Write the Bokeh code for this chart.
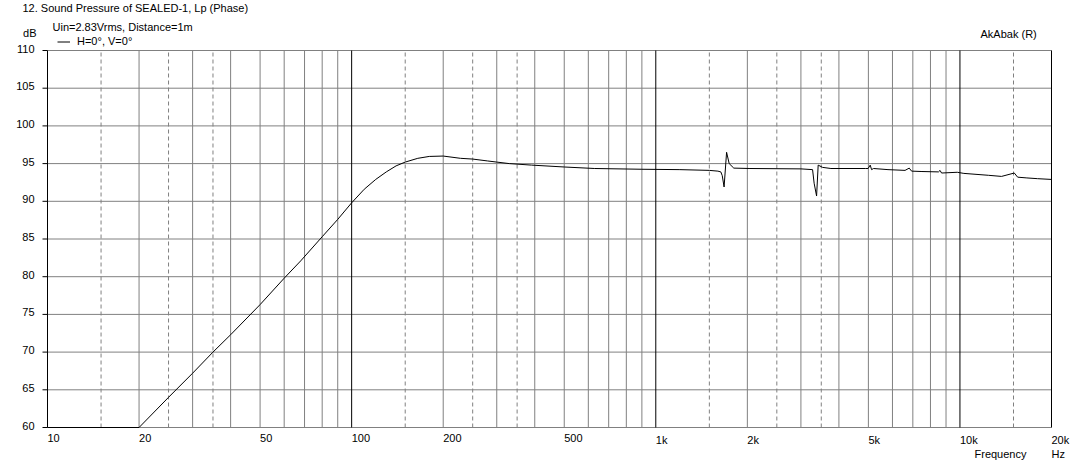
import math
from bokeh.plotting import figure
from bokeh.models import Range1d
from bokeh.core.properties import value
from bokeh.embed import file_html
from bokeh.resources import INLINE

FONT = "Liberation Sans"

# ---- data ----
freq_hz = [10, 20, 25, 30, 35, 40, 50, 60, 68, 80, 90, 100, 110, 120, 130, 140, 150, 165, 180, 200,
           228, 250, 280, 300, 330, 390, 500, 630, 900, 1200, 1500, 1600, 1636, 1654, 1677,
           1709, 1743, 1805, 2040, 3000, 3277, 3316, 3378, 3419, 3534, 3765, 4900, 4990, 5070,
           5122, 5200, 5800, 6600, 6811, 6935, 7500, 8500, 8600, 8700, 9800, 10300, 12400,
           13700, 15090, 15480, 16600, 18000, 20000]
spl_db = [60.0, 60.0, 64.0, 67.2, 70.0, 72.3, 76.3, 79.8, 82.1, 85.3, 87.6, 89.8, 91.6, 92.9, 93.9,
          94.7, 95.2, 95.7, 95.95, 96.0, 95.7, 95.6, 95.35, 95.2, 95.0, 94.8, 94.55, 94.35, 94.25,
          94.2, 94.1, 94.0, 93.9, 93.4, 91.9, 96.5, 95.0, 94.4, 94.35, 94.3, 94.2, 92.4, 90.7, 94.8,
          94.5, 94.35, 94.35, 94.35, 94.8, 94.2, 94.35, 94.2, 94.1, 94.4, 94.0, 93.95, 93.9, 94.1,
          93.75, 93.85, 93.7, 93.45, 93.3, 93.75, 93.2, 93.1, 93.0, 92.9]

y_ticks = [60, 65, 70, 75, 80, 85, 90, 95, 100, 105, 110]
y_tick_labels = [str(v) for v in y_ticks]
x_label_ticks = [10, 20, 50, 100, 200, 500, 1000, 2000, 5000, 10000, 20000]
x_label_texts = ["10", "20", "50", "100", "200", "500", "1k", "2k", "5k", "10k", "20k"]
decade_lines = [10, 100, 1000, 10000, 20000]
solid_lines = [20, 30, 40, 50, 60, 70, 80, 90,
               200, 300, 400, 500, 600, 700, 800, 900,
               2000, 3000, 4000, 5000, 6000, 7000, 8000, 9000]
dashed_lines = [15, 25, 35, 150, 250, 350, 1500, 2500, 3500, 15000]

title_text = "12. Sound Pressure of SEALED-1, Lp (Phase)"
subtitle_text = "Uin=2.83Vrms, Distance=1m"
legend_text = "H=0°, V=0°"
brand_text = "AkAbak (R)"
x_name = "Frequency"
x_unit = "Hz"
y_unit = "dB"

# ---- geometry (pixels) ----
W, H = 1078, 464
PL, PR, PT, PB = 47, 1051, 50, 427          # plot box in canvas pixels
X0, X1 = 10, 20000
Y0, Y1 = 60, 110
px_dec = (PR - PL) / (math.log10(X1) - math.log10(X0))
px_db = (PB - PT) / (Y1 - Y0)
xr = Range1d(10 ** (math.log10(X0) - PL / px_dec), 10 ** (math.log10(X1) + (W - PR) / px_dec))
yr = Range1d(Y0 - (H - PB) / px_db, Y1 + PT / px_db)

GRAY = "#808080"

p = figure(width=W, height=H, x_axis_type="log", x_range=xr, y_range=yr,
           x_axis_location=None, y_axis_location=None, min_border=0,
           output_backend="svg", toolbar_location=None)
p.title.visible = False
p.outline_line_color = None
p.background_fill_color = "white"
p.border_fill_color = "white"
for g in p.grid:
    g.visible = False

# horizontal grid
p.segment(x0=[X0] * len(y_ticks), y0=y_ticks, x1=[X1] * len(y_ticks), y1=y_ticks,
          line_color=GRAY, line_width=1)
# vertical grids
p.segment(x0=solid_lines, y0=[Y0] * len(solid_lines), x1=solid_lines, y1=[Y1] * len(solid_lines),
          line_color=GRAY, line_width=1)
p.segment(x0=dashed_lines, y0=[Y0] * len(dashed_lines), x1=dashed_lines, y1=[Y1] * len(dashed_lines),
          line_color=GRAY, line_width=1, line_dash="4 3")
p.segment(x0=decade_lines, y0=[Y0] * len(decade_lines), x1=decade_lines, y1=[Y1] * len(decade_lines),
          line_color="black", line_width=1)
# y ticks (5 px outward)
tick_x0 = 10 ** (math.log10(X0) - 5 / px_dec)
p.segment(x0=[tick_x0] * len(y_ticks), y0=y_ticks, x1=[X0] * len(y_ticks), y1=y_ticks,
          line_color="black", line_width=1)

# curve
p.line(freq_hz, spl_db, line_color="black", line_width=1, legend_label=legend_text)

TXT = dict(text_font_size="11px", text_color="black", text_font_style="normal",
           text_font=value(FONT))

# y tick labels
p.text(x=[X0] * len(y_ticks), y=y_ticks, text=y_tick_labels, x_offset=-13, y_offset=-2,
       text_align="right", text_baseline="middle", **TXT)
# x tick labels
p.text(x=x_label_ticks, y=[Y0] * len(x_label_ticks), text=x_label_texts, x_offset=0, y_offset=6,
       text_align="left", text_baseline="top", **TXT)


def anchored(text, px, py, align="left"):
    # text placed relative to the plot's top-left corner (X0, Y1)
    p.text(x=[X0], y=[Y1], text=[text], x_offset=px - PL, y_offset=py - PT,
           text_align=align, text_baseline="top", **TXT)


anchored(title_text, 22, 1)
anchored(subtitle_text, 52, 20)
anchored(y_unit, 36, 26, align="right")
anchored(brand_text, 980, 27)
anchored(x_name, 974, 447)
anchored(x_unit, 1051, 447)

lg = p.legend[0]
lg.location = (57, H - 36 - 11)
lg.padding = 0
lg.margin = 0
lg.spacing = 0
lg.glyph_width = 13
lg.glyph_height = 11
lg.label_height = 11
lg.label_standoff = 7
lg.label_text_font = FONT
lg.label_text_font_size = "11px"
lg.label_text_color = "black"
lg.background_fill_alpha = 0
lg.border_line_color = None

open("out.html", "w").write(file_html(p, INLINE))
